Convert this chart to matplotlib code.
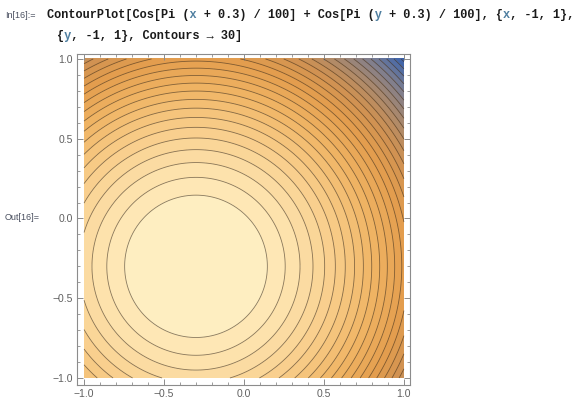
import numpy as np
import matplotlib
matplotlib.use("Agg")
import matplotlib.pyplot as plt
from matplotlib.colors import LinearSegmentedColormap, Normalize
from matplotlib.ticker import MultipleLocator, FixedLocator, FixedFormatter


# function shown in the notebook input
SHIFT = 0.3
DIVISOR = 100.0
X_RANGE = (-1.0, 1.0)
Y_RANGE = (-1.0, 1.0)

R2_FIRST = 0.199
R2_STEP = 0.112
N_CONTOURS = 29

MAJOR_TICKS = [-1.0, -0.5, 0.0, 0.5, 1.0]
TICK_LABELS = ["\u22121.0", "\u22120.5", "0.0", "0.5", "1.0"]

# approximate Mathematica default contour gradient (low -> high)
GRADIENT_POS = [0.0, 0.07, 0.17, 0.28, 0.38, 0.50, 0.64, 0.78, 0.90, 1.0]
GRADIENT_COL = ["#3560ae", "#5870a2", "#86808a", "#ad8a6a", "#cf9152",
                "#e49e4e", "#f0b565", "#f8cd8a", "#fde3ae", "#fff2c8"]


def f(x, y):
    return np.cos(np.pi * (x + SHIFT) / DIVISOR) + np.cos(np.pi * (y + SHIFT) / DIVISOR)


def main() -> None:
    fig = plt.figure(figsize=(5.87, 4.07), dpi=100)
    fig.patch.set_facecolor("white")

    left, right, top, bottom = 77, 410, 54, 385
    W, H = 587, 407
    ax = fig.add_axes([left / W, 1 - bottom / H, (right - left) / W, (bottom - top) / H])

    xs = np.linspace(X_RANGE[0], X_RANGE[1], 600)
    ys = np.linspace(Y_RANGE[0], Y_RANGE[1], 600)
    X, Y = np.meshgrid(xs, ys)
    Z = f(X, Y)
    zmin, zmax = Z.min(), Z.max()

    # contour levels: radius along the line y = -0.3 -> value 1 + cos(pi r / 100)
    r2 = R2_FIRST + R2_STEP * np.arange(N_CONTOURS)
    lev = np.sort(1 + np.cos(np.pi * np.sqrt(r2) / DIVISOR))
    lev = lev[lev > zmin]
    fill_levels = np.concatenate([[zmin - 1e-9], lev, [zmax + 1e-9]])

    cmap = LinearSegmentedColormap.from_list("mma", list(zip(GRADIENT_POS, GRADIENT_COL)))
    ax.contourf(X, Y, Z, levels=fill_levels, cmap=cmap, norm=Normalize(zmin, zmax))
    ax.contour(X, Y, Z, levels=lev, colors="#3a2a1a", linewidths=0.6, alpha=0.6)

    ax.set_xlim(-1.044, 1.038)
    ax.set_ylim(-1.044, 1.031)

    for spine in ax.spines.values():
        spine.set_color("#8c8c8c")
        spine.set_linewidth(0.8)

    for axis in (ax.xaxis, ax.yaxis):
        axis.set_major_locator(FixedLocator(MAJOR_TICKS))
        axis.set_major_formatter(FixedFormatter(TICK_LABELS))
        axis.set_minor_locator(MultipleLocator(0.1))
    ax.tick_params(which="both", direction="in", top=True, right=True,
                   color="#8c8c8c", labelcolor="#606060", labelsize=7.5, pad=3)
    ax.tick_params(which="major", length=4, width=0.7)
    ax.tick_params(which="minor", length=2.3, width=0.6)
    for lbl in ax.get_xticklabels() + ax.get_yticklabels():
        lbl.set_family(["Liberation Sans", "DejaVu Sans"])

    # notebook cell labels
    label_kw = dict(fontsize=6.5, color="#4a5060", family=["Liberation Sans", "DejaVu Sans"])
    fig.text(5 / W, 1 - 15 / H, "In[16]:=", va="center", ha="left", **label_kw)
    fig.text(5 / W, 1 - 218 / H, "Out[16]=", va="center", ha="left", **label_kw)

    # input code, monospace; variables x, y drawn separately in blue
    code_kw = dict(fontsize=8.6, fontweight="bold", va="center", ha="left",
                   family=["Liberation Mono", "DejaVu Sans Mono"])
    line1 = "ContourPlot[Cos[Pi (x + 0.3) / 100] + Cos[Pi (y + 0.3) / 100], {x, -1, 1},"
    line2 = "{y, -1, 1}, Contours \u2192 30]"
    for text, x0, y0 in ((line1, 47, 15), (line2, 57, 36)):
        plain = "".join(" " if c in "xy" else c for c in text)
        vars_only = "".join(c if c in "xy" else " " for c in text)
        fig.text(x0 / W, 1 - y0 / H, plain, color="#1a1a1a", **code_kw)
        fig.text(x0 / W, 1 - y0 / H, vars_only, color="#4f7fa0", **code_kw)

    fig.savefig("out.png", dpi=100)


if __name__ == "__main__":
    main()
